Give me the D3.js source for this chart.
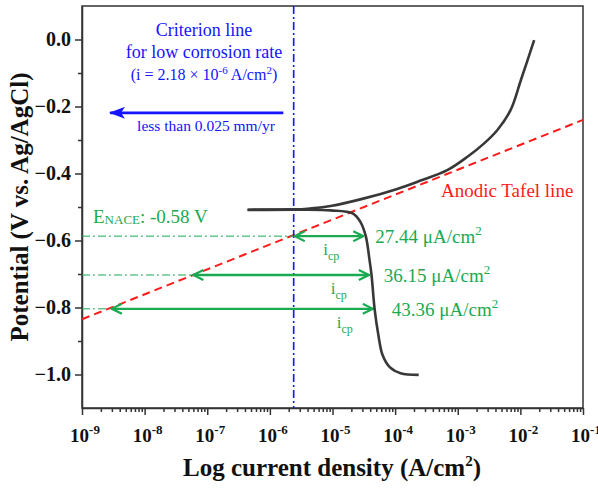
<!DOCTYPE html>
<html lang="en">
<head>
<meta charset="UTF-8">
<title>Polarization curve</title>
<script src="https://cdn.jsdelivr.net/npm/d3@7"></script>
<style>
  body { margin: 0; background: #fff; }
  svg text { font-family: "Liberation Serif", "Times New Roman", serif; }
</style>
</head>
<body>
<div id="container"></div>
<script>
// anodic branch (current A/cm2, potential V)
const anodicI = [4.4e-7, 2.4e-6, 4.0e-6, 9.3e-6, 3.1e-5, 1.08e-4, 2.56e-4, 6.8e-4, 1.43e-3, 2.64e-3, 4.3e-3, 7.0e-3, 1.02e-2, 1.66e-2];
const anodicE = [-0.508, -0.507, -0.505, -0.497, -0.475, -0.446, -0.421, -0.390, -0.350, -0.310, -0.270, -0.210, -0.121, -0.002];
// cathodic branch
const cathodicI = [4.4e-7, 3.1e-6, 9.3e-6, 2.1e-5, 2.8e-5, 3.4e-5, 3.9e-5, 4.2e-5, 4.7e-5, 5.4e-5, 6.3e-5, 8.2e-5, 1.22e-4, 2.38e-4];
const cathodicE = [-0.509, -0.508, -0.510, -0.519, -0.545, -0.587, -0.658, -0.703, -0.804, -0.882, -0.942, -0.978, -0.996, -1.001];
// anodic Tafel line end points
const tafelI = [1e-9, 1e-1];
const tafelE = [-0.835, -0.240];
// criterion line
const criterionI = 2.4e-6;
// icp arrows
const arrowE = [-0.587, -0.703, -0.804];
const arrowLeftI = [2.5e-6, 6.0e-8, 3.0e-9];
const arrowRightI = [3.1e-5, 3.8e-5, 4.4e-5];
const arrowLabels = ["27.44", "36.15", "43.36"];
// axis ticks
const xTickExp = [-9, -8, -7, -6, -5, -4, -3, -2, -1];
const yTicks = [0.0, -0.2, -0.4, -0.6, -0.8, -1.0];
const yMinorTicks = [-0.1, -0.3, -0.5, -0.7, -0.9];

const W = 598, H = 488;
const m = { top: 6, right: 15, bottom: 80, left: 82 };
const green = "#1aaa52", blue = "#1414ff", red = "#ff1a1a";
const serif = "Liberation Serif, Times New Roman, serif";

const svg = d3.select("#container").append("svg").attr("width", W).attr("height", H);

const x = d3.scaleLog().domain([1e-9, 1e-1]).range([m.left, W - m.right]);
const y = d3.scaleLinear().domain([-1.1, 0.1]).range([H - m.bottom, m.top]);

function txt(px, py, size, color) {
  return svg.append("text").attr("x", px).attr("y", py).attr("font-family", serif)
    .attr("font-size", size).attr("fill", color || "#111");
}

const defs = svg.append("defs");
defs.append("marker").attr("id", "gh").attr("viewBox", "0 0 12 12")
  .attr("refX", 11).attr("refY", 6).attr("markerWidth", 12).attr("markerHeight", 12)
  .attr("markerUnits", "userSpaceOnUse").attr("orient", "auto-start-reverse")
  .append("path").attr("d", "M1,1 L11,6 L1,11").attr("fill", "none")
  .attr("stroke", green).attr("stroke-width", 2.2);
defs.append("marker").attr("id", "bh").attr("viewBox", "0 0 16 12")
  .attr("refX", 15).attr("refY", 6).attr("markerWidth", 16).attr("markerHeight", 12)
  .attr("markerUnits", "userSpaceOnUse").attr("orient", "auto")
  .append("path").attr("d", "M0,0 L16,6 L0,12 L4,6 z").attr("fill", blue);

// frame
svg.append("rect").attr("x", m.left).attr("y", m.top)
  .attr("width", W - m.left - m.right).attr("height", H - m.top - m.bottom)
  .attr("fill", "none").attr("stroke", "#333").attr("stroke-width", 1.5);

// x axis
svg.append("g").attr("transform", `translate(0,${H - m.bottom})`)
  .call(d3.axisBottom(x).tickValues(xTickExp.map(e => Math.pow(10, e))).tickFormat("").tickSize(7).tickSizeOuter(0));
const minors = [];
xTickExp.slice(0, -1).forEach(e => { for (let k = 2; k <= 9; k++) minors.push(k * Math.pow(10, e)); });
svg.append("g").attr("transform", `translate(0,${H - m.bottom})`)
  .call(d3.axisBottom(x).tickValues(minors).tickFormat("").tickSize(4).tickSizeOuter(0))
  .call(g => g.select(".domain").remove());
xTickExp.forEach(e => {
  const t = txt(x(Math.pow(10, e)) + 3, 442, 19).attr("text-anchor", "middle").attr("font-weight", "bold");
  t.append("tspan").text("10");
  t.append("tspan").attr("dy", -8).attr("font-size", 13).text("-" + Math.abs(e));
});

// y axis
svg.append("g").attr("transform", `translate(${m.left},0)`)
  .call(d3.axisLeft(y).tickValues(yTicks).tickFormat(d3.format(".1f")).tickSize(7).tickSizeOuter(0))
  .call(g => g.selectAll("text").attr("font-size", 20).attr("font-weight", "bold")
    .attr("font-family", serif).attr("fill", "#111").attr("dx", -1));
svg.append("g").attr("transform", `translate(${m.left},0)`)
  .call(d3.axisLeft(y).tickValues(yMinorTicks).tickFormat("").tickSize(4).tickSizeOuter(0))
  .call(g => g.select(".domain").remove());
svg.selectAll(".domain, .tick line").attr("stroke", "#333").attr("stroke-width", 1.5);

// axis titles
const xt = txt(332, 476, 25).attr("text-anchor", "middle").attr("font-weight", "bold");
xt.append("tspan").text("Log current density (A/cm");
xt.append("tspan").attr("dy", -10).attr("font-size", 15).text("2");
xt.append("tspan").attr("dy", 10).text(")");
svg.append("text").attr("transform", `translate(28,${(m.top + H - m.bottom) / 2}) rotate(-90)`)
  .attr("text-anchor", "middle").attr("font-family", serif).attr("font-size", 25)
  .attr("font-weight", "bold").attr("fill", "#111")
  .text("Potential (V vs. Ag/AgCl)");

// Tafel line
svg.append("line").attr("x1", x(tafelI[0])).attr("y1", y(tafelE[0]))
  .attr("x2", x(tafelI[1])).attr("y2", y(tafelE[1]))
  .attr("stroke", red).attr("stroke-width", 2).attr("stroke-dasharray", "8,5");

// criterion line
svg.append("line").attr("x1", x(criterionI)).attr("x2", x(criterionI))
  .attr("y1", m.top).attr("y2", H - m.bottom)
  .attr("stroke", blue).attr("stroke-width", 1.6).attr("stroke-dasharray", "8,3,2,3");

// green dash-dot guides and icp arrows
const labOff = [12, 15, 19];
arrowE.forEach((e, i) => {
  svg.append("line").attr("x1", m.left).attr("x2", x(arrowLeftI[i]))
    .attr("y1", y(e)).attr("y2", y(e))
    .attr("stroke", green).attr("stroke-width", 1).attr("stroke-dasharray", "8,3,2,3");
  svg.append("line").attr("x1", x(arrowLeftI[i])).attr("x2", x(arrowRightI[i]))
    .attr("y1", y(e)).attr("y2", y(e))
    .attr("stroke", green).attr("stroke-width", 2.4)
    .attr("marker-start", "url(#gh)").attr("marker-end", "url(#gh)");
  const lab = txt(x(arrowRightI[i]) + labOff[i], y(e) + 7, 19, green);
  lab.append("tspan").text(arrowLabels[i] + " \u03bcA/cm");
  lab.append("tspan").attr("dy", -8).attr("font-size", 13).text("2");
  const ic = txt(x(arrowRightI[i]) - 40 + i * 2, y(e) + 19, 17, green);
  ic.append("tspan").text("i");
  ic.append("tspan").attr("dy", 5).attr("font-size", 12).text("cp");
});

// polarization curve
const line = d3.line().x(d => x(d[0])).y(d => y(d[1])).curve(d3.curveCatmullRom.alpha(0.5));
svg.append("path").datum(anodicI.map((v, i) => [v, anodicE[i]]))
  .attr("d", line).attr("fill", "none").attr("stroke", "#383838").attr("stroke-width", 2.6);
svg.append("path").datum(cathodicI.map((v, i) => [v, cathodicE[i]]))
  .attr("d", line).attr("fill", "none").attr("stroke", "#383838").attr("stroke-width", 2.6);

// E_NACE label
const en = txt(93, 223, 19, green);
en.append("tspan").text("E");
en.append("tspan").attr("font-size", 13).attr("dy", 1).text("NACE");
en.append("tspan").attr("dy", -1).text(": -0.58 V");

// "Anodic Tafel line"
txt(441, 197, 19, red).text("Anodic Tafel line");

// criterion text
const cx = 204;
txt(cx, 36, 18, blue).attr("text-anchor", "middle").text("Criterion line");
txt(cx, 58, 18, blue).attr("text-anchor", "middle").text("for low corrosion rate");
const ct = txt(cx, 80, 16, blue).attr("text-anchor", "middle");
ct.append("tspan").text("(i = 2.18 \u00d7 10");
ct.append("tspan").attr("dy", -6).attr("font-size", 11).text("-6");
ct.append("tspan").attr("dy", 6).text(" A/cm");
ct.append("tspan").attr("dy", -6).attr("font-size", 11).text("2");
ct.append("tspan").attr("dy", 6).text(")");

// low corrosion arrow
svg.append("line").attr("x1", x(1.64e-6)).attr("x2", x(2.8e-9))
  .attr("y1", y(-0.219)).attr("y2", y(-0.219))
  .attr("stroke", blue).attr("stroke-width", 2.6).attr("marker-end", "url(#bh)");
txt(206, 131, 15.5, blue).attr("text-anchor", "middle").text("less than 0.025 mm/yr");
</script>
</body>
</html>
